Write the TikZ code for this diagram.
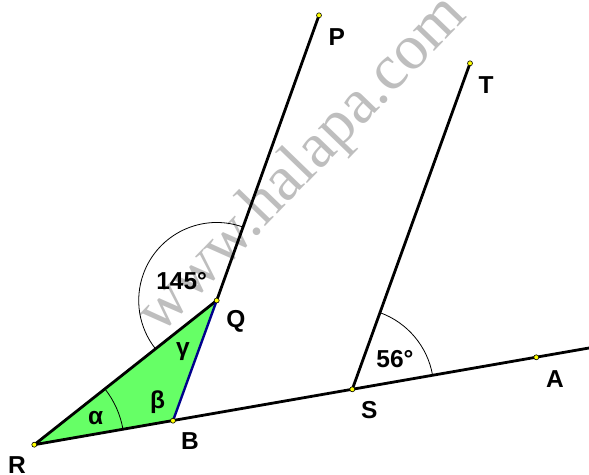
\documentclass[tikz,border=0pt]{standalone}
\usepackage{fontspec}
\setmainfont{Liberation Sans}
\newfontfamily\wmfont{Liberation Serif}
\usetikzlibrary{angles}
\definecolor{tgreen}{RGB}{102,255,102}
\definecolor{tblue}{RGB}{0,0,140}
\definecolor{tyellow}{RGB}{255,255,0}
\definecolor{wmgray}{RGB}{190,190,190}
\begin{document}
\begin{tikzpicture}[x=1pt,y=1pt,
  seg/.style={line width=2.8pt, line cap=round},
  arcline/.style={draw, line width=0.8pt},
  pt/.style={circle, fill=tyellow, draw=black, line width=0.6pt, inner sep=0pt, minimum size=5pt},
  lbl/.style={font=\fontsize{24.5}{24.5}\selectfont\bfseries, inner sep=0pt}]
\useasboundingbox (0,0) rectangle (589,474);
% watermark
\node[font=\fontsize{64}{64}\wmfont, text=wmgray, rotate=46, anchor=base west, inner sep=0pt] (wm) at (160,138) {www.halapa.com};
% points
\coordinate (R) at (34.3,29.3);
\coordinate (B) at (173,53.3);
\coordinate (Q) at (216.7,173.5);
\coordinate (P) at (319,458.7);
\coordinate (S) at (352.3,84.7);
\coordinate (A) at (536.3,116.7);
\coordinate (E) at (589,126);
\coordinate (T) at (470,410.7);
% triangle fill
\fill[tgreen] (R) -- (B) -- (Q) -- cycle;
% angle arcs
\pic[arcline, angle radius=90pt] {angle = B--R--Q};
\pic[arcline, angle radius=78pt] {angle = P--Q--R};
\pic[arcline, angle radius=81.5pt] {angle = A--S--T};
% lines
\draw[seg] (R) -- (E);
\draw[seg] (R) -- (Q);
\draw[seg] (Q) -- (P);
\draw[seg] (S) -- (T);
\draw[line width=2.4pt, tblue] (B) -- (Q);
% point markers
\foreach \p in {R,B,Q,P,S,A,T} \node[pt] at (\p) {};
% labels
\node[lbl] (lP) at (336.7,437.3) {P};
\node[lbl] (lT) at (486,389) {T};
\node[lbl] (lQ) at (236,152.3) {Q};
\node[lbl] (lB) at (190,33) {B};
\node[lbl] (lR) at (17,9) {R};
\node[lbl] (lS) at (369.3,64) {S};
\node[lbl] (lA) at (555,94.7) {A};
\node[lbl] (l56) at (395,114.7) {56°};
\node[lbl] (l145) at (181.7,193.3) {145°};
\node[lbl] (la) at (95.7,55.7) {α};
\node[lbl] (lb) at (157.7,72.3) {β};
\node[lbl] (lg) at (183,122.7) {γ};
\end{tikzpicture}
\end{document}
